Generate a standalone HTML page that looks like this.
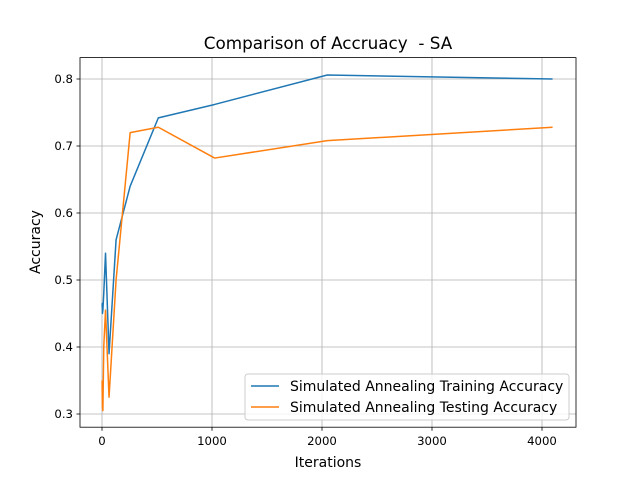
<!DOCTYPE html>
<html><head><meta charset="utf-8"><style>body{margin:0;background:#fff}svg{display:block;font-family:"DejaVu Sans","Liberation Sans",sans-serif}text{white-space:pre}</style></head>
<body>
<svg id="chart" width="640" height="480">
<rect width="640" height="480" fill="#fff"/>
<text x="328" y="49" font-size="16.8" text-anchor="middle">Comparison of Accruacy  - SA</text>
<g id="grid"></g><g id="lines"></g><g id="ticks"></g>
<rect x="80" y="57.6" width="496" height="369.6" fill="none" stroke="#000" stroke-width="0.8"/>
<text x="328" y="467" font-size="14" text-anchor="middle">Iterations</text>
<text x="40" y="242" font-size="14" text-anchor="middle" transform="rotate(-90 40 242)">Accuracy</text>
<g>
<rect x="245" y="374" width="324" height="46" rx="3" fill="#fff" fill-opacity="0.8" stroke="#ccc"/>
<line x1="251" y1="386" x2="279" y2="386" stroke="#1f77b4" stroke-width="1.5"/>
<text x="290" y="391" font-size="14">Simulated Annealing Training Accuracy</text>
<line x1="251" y1="407" x2="279" y2="407" stroke="#ff7f0e" stroke-width="1.5"/>
<text x="290" y="412" font-size="14">Simulated Annealing Testing Accuracy</text>
</g>
</svg>
<script>
const iterations=[1,2,4,8,16,32,64,128,256,512,1024,2048,4096];
const trainAcc=[0.46,0.465,0.45,0.455,0.48,0.54,0.39,0.56,0.64,0.742,0.762,0.806,0.800];
const testAcc=[0.35,0.33,0.31,0.305,0.40,0.455,0.325,0.50,0.72,0.728,0.682,0.708,0.728];
const xTicks=[0,1000,2000,3000,4000];
const yTicks=[0.3,0.4,0.5,0.6,0.7,0.8];
const NS='http://www.w3.org/2000/svg';
const X=v=>102+v*0.110;
const Y=v=>79+(0.8-v)*670;
function mk(t,a,p){const e=document.createElementNS(NS,t);for(const k in a)e.setAttribute(k,a[k]);p.appendChild(e);return e;}
const grid=document.getElementById('grid'),ticks=document.getElementById('ticks'),lines=document.getElementById('lines');
xTicks.forEach(t=>{const x=X(t);
let g=mk('line',{x1:x,x2:x,y1:57.6,y2:427.2,stroke:'#b0b0b0','stroke-width':0.8},grid);

mk('line',{x1:x,x2:x,y1:427.2,y2:430.7,stroke:'#000','stroke-width':0.8},ticks);
let tx=mk('text',{x:x,y:445,'font-size':11.7,'text-anchor':'middle'},ticks);tx.textContent=t;
});
yTicks.forEach(t=>{const y=Y(t);
let g=mk('line',{x1:80,x2:576,y1:y,y2:y,stroke:'#b0b0b0','stroke-width':0.8},grid);

mk('line',{x1:76.5,x2:80,y1:y,y2:y,stroke:'#000','stroke-width':0.8},ticks);
let tx=mk('text',{x:73,y:y+4,'font-size':11.7,'text-anchor':'end'},ticks);tx.textContent=t.toFixed(1);
});
function series(vals,color,name){const d=iterations.map((it,i)=>(i?'L':'M')+X(it).toFixed(2)+' '+Y(vals[i]).toFixed(2)).join(' ');
const p=mk('path',{d:d,fill:'none',stroke:color,'stroke-width':1.5,'stroke-linejoin':'round'},lines);

}
series(trainAcc,'#1f77b4','training-accuracy-line');
series(testAcc,'#ff7f0e','testing-accuracy-line');
</script>
</body></html>
